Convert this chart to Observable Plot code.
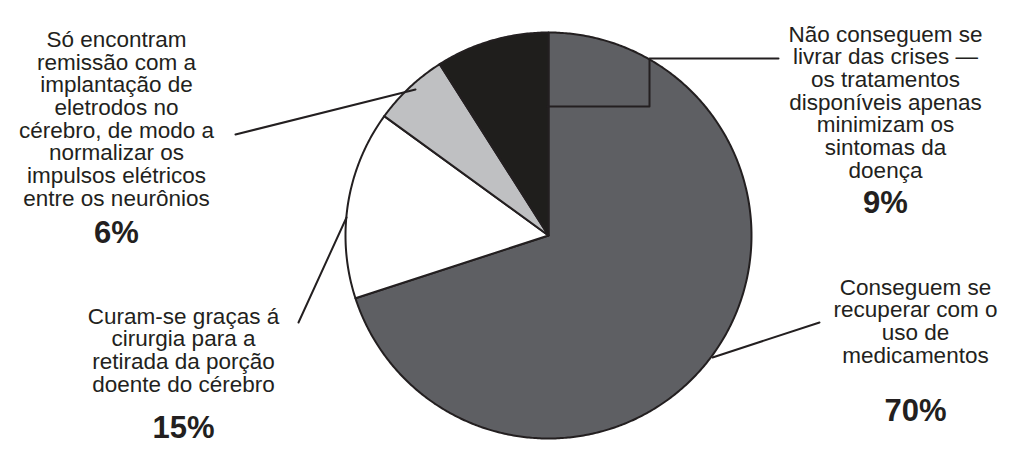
<!DOCTYPE html>
<html><head><meta charset="utf-8">
<script src="https://cdn.jsdelivr.net/npm/d3@7"></script>
<script src="https://cdn.jsdelivr.net/npm/@observablehq/plot@0.6"></script>
<style>body{margin:0;background:#fff} svg{display:block}</style>
</head><body><div id="chart"></div>
<script>
// ---- data ----
const categories = [
  "Conseguem se\nrecuperar com o\nuso de\nmedicamentos",
  "Curam-se graças á\ncirurgia para a\nretirada da porção\ndoente do cérebro",
  "Só encontram\nremissão com a\nimplantação de\neletrodos no\ncérebro, de modo a\nnormalizar os\nimpulsos elétricos\nentre os neurônios",
  "Não conseguem se\nlivrar das crises —\nos tratamentos\ndisponíveis apenas\nminimizam os\nsintomas da\ndoença"
];
const values = [70, 15, 6, 9];
const percentLabels = ["70%", "15%", "6%", "9%"];
const colors = ["#5e5f63", "#ffffff", "#bfc0c2", "#1f1e1c"];

// ---- layout ----
const W = 1022, H = 459, cx = 548, cy = 235, R = 203;
const labelLayout = [
  {x: 915, y: 362, py: 420},
  {x: 183, y: 391, py: 437},
  {x: 116, y: 205, py: 242},
  {x: 885, y: 177, py: 212}
];
const leaders = [
  [[819, 322], [712, 357]],
  [[298, 322], [346, 217]],
  [[235, 134], [415, 89]],
  [[778, 58], [649, 58], [649, 106], [547, 106]]
];

const data = categories.map((c, i) => ({key: i, label: c, value: values[i], pct: percentLabels[i], color: colors[i]}));
const arcs = d3.pie().sort(null).value(d => d.value)(data);

const slicePts = [];
arcs.forEach(a => {
  const n = Math.max(2, Math.ceil((a.endAngle - a.startAngle) / (Math.PI / 360)));
  slicePts.push({key: a.data.key, color: a.data.color, x: cx, y: cy});
  for (let k = 0; k <= n; k++) {
    const t = a.startAngle + (a.endAngle - a.startAngle) * k / n;
    slicePts.push({key: a.data.key, color: a.data.color, x: cx + R * Math.sin(t), y: cy - R * Math.cos(t)});
  }
  slicePts.push({key: a.data.key, color: a.data.color, x: cx, y: cy});
});

const leaderPts = leaders.flatMap((pts, i) => pts.map(([x, y]) => ({key: i, x, y})));

const labels = data.map((d, i) => ({...d, ...labelLayout[i]}));

const chart = Plot.plot({
  width: W, height: H,
  margin: 0,
  x: {domain: [0, W], range: [0, W], axis: null},
  y: {domain: [0, H], range: [0, H], axis: null},
  color: {type: "identity"},
  style: {fontFamily: "'Liberation Sans', Arial, sans-serif", background: "#fff"},
  marks: [
    Plot.line(slicePts, {x: "x", y: "y", z: "key", fill: "color", stroke: "#231f20", strokeWidth: 2, strokeLinejoin: "round", curve: "linear"}),
    Plot.line(leaderPts, {x: "x", y: "y", z: "key", stroke: "#231f20", strokeWidth: 2, curve: "linear"}),
    Plot.text(labels, {x: "x", y: "y", text: "label", lineAnchor: "bottom", textAnchor: "middle", fontSize: 22.5, lineHeight: 1.005, fill: "#231f20"}),
    Plot.text(labels, {x: "x", y: "py", text: "pct", lineAnchor: "bottom", textAnchor: "middle", fontSize: 31, fontWeight: "bold", fill: "#231f20"})
  ]
});
document.getElementById("chart").appendChild(chart);
</script>
</body></html>
